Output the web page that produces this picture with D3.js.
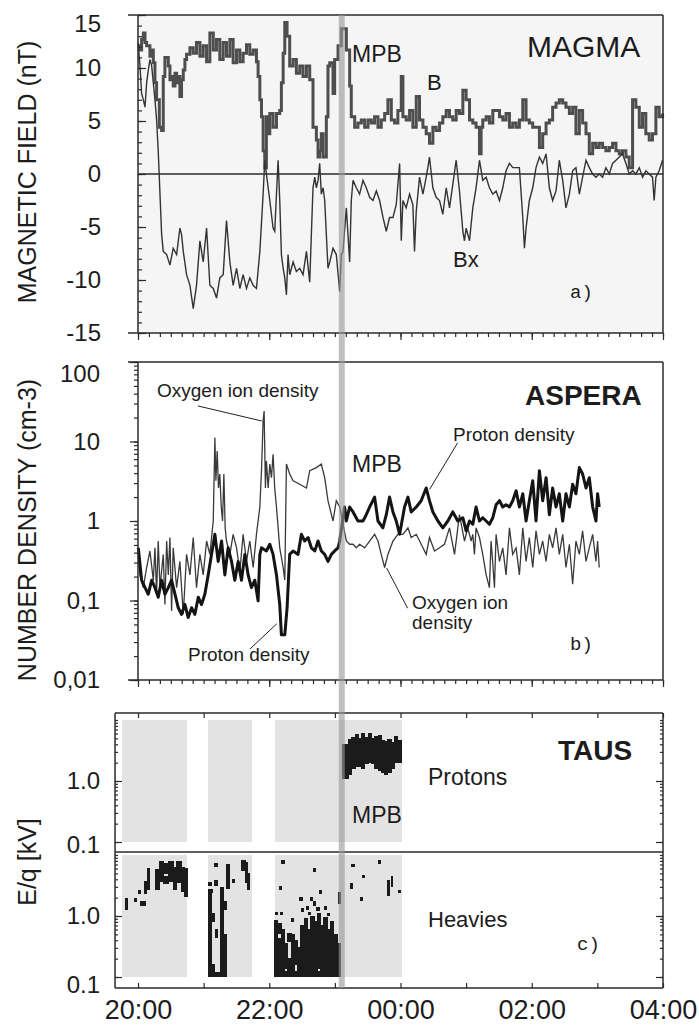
<!DOCTYPE html>
<html>
<head>
<meta charset="utf-8">
<script src="https://cdn.jsdelivr.net/npm/d3@7"></script>
<style>
  body { margin: 0; background: #fff; }
  svg { display: block; }
  text { font-family: "Liberation Sans", Arial, sans-serif; fill: #1c1c1c; }
  .mono { font-family: "Liberation Mono", "Courier New", monospace; }
</style>
</head>
<body>
<svg id="chart" width="699" height="1025"></svg>
<script>
// ---- time base: minutes after 20:00 UT ----
const timeTicks = [0, 120, 240, 360, 480];
const timeLabels = ["20:00", "22:00", "00:00", "02:00", "04:00"];
const mpbTime = 186.3;               // magnetic pile-up boundary crossing
const tausStart = -21;               // TAUS panel starts at 19:39

// ---- MAGMA magnetic field (nT) : [minute, value] ----
const bTotal = [[0,12.1],[1.8,11.7],[3.3,12.7],[4.9,13.3],[6.4,12.4],[7.9,12.1],[10.9,11.1],[12.5,11.7],[14,10.5],[15.5,8.6],[17,7],[19.5,4.4],[21.6,4.1],[23.1,9.2],[24.6,11],[27.7,10.2],[29.2,8.9],[30.7,9.2],[32.2,8.3],[33.8,9.5],[35.3,8.6],[36.8,9.2],[38.3,7.3],[39.8,8.9],[41.4,9.8],[42.9,10.8],[44.4,11.3],[47.5,11.9],[50.5,11.4],[53.5,12.4],[56.6,11.1],[59.6,12.1],[62.7,10.6],[65.7,13.3],[68.8,11.7],[71.8,12.7],[74.8,10.8],[77.9,12.4],[80.9,11.1],[84,12.7],[87,10.5],[90.1,11.7],[93.1,10.6],[96.1,11.4],[99.2,12.2],[102.2,11.3],[105.3,11.7],[108.3,10.6],[109.8,9.2],[111.4,7],[112.9,5.4],[114.4,2.2],[115.9,0.6],[117.4,5.4],[119,3.8],[120.5,5.7],[123.5,4.4],[126.6,5.7],[129.6,6],[131.1,8.6],[132.7,11.4],[134.2,14.3],[136.3,13],[138.7,10.2],[141.8,10.8],[144.8,9.5],[147.9,10.2],[150.9,9.2],[154,10.2],[157,8.9],[160,4.4],[163.1,3.2],[164.6,1.6],[166.1,2.2],[167.6,3.8],[169.2,1.6],[172.2,5.4],[173.7,10.2],[175.3,10.5],[178.3,7.6],[179.8,10.8],[182.9,12.1],[185.9,13.7],[187.4,13.7],[190.5,11.7],[193.5,8.3],[195,5.4],[198.1,4.4],[201.1,4.8],[204.2,5.1],[207.2,4.4],[210.3,5.1],[213.3,4.8],[216.3,5.4],[219.4,4.4],[222.4,5.1],[225.5,5.7],[228.5,7],[231.6,5.1],[234.6,4.8],[237.6,6],[240.7,9.2],[242.2,5.4],[245.2,5.1],[248.3,6],[251.3,4.4],[254.4,7.3],[257.4,5.1],[260.5,4.4],[263.5,3.8],[266.5,2.9],[269.6,4.4],[272.6,4.1],[275.7,4.8],[278.7,5.4],[281.8,6],[284.8,5.4],[287.8,5.1],[290.9,6],[293.9,5.7],[297,7.9],[300,7],[303.1,5.1],[306.1,4.8],[309.1,4.4],[312.2,1.9],[313.7,4.4],[315.2,5.1],[318.3,5.4],[321.3,4.8],[324.4,6],[327.4,6],[330.5,5.4],[333.5,5.1],[336.5,5.7],[339.6,4.4],[342.6,4.8],[345.7,4.4],[348.7,5.1],[351.8,7],[354.8,5.1],[357.8,4.8],[360.9,4.4],[363.9,4.4],[367,2.5],[370,3.8],[373.1,4.8],[376.1,5.1],[379.1,6.3],[382.2,6.7],[385.2,7],[388.3,6.7],[391.3,6.3],[394.4,5.7],[397.4,6.3],[400.4,3.8],[403.5,6],[406.5,4.8],[409.6,3.8],[412.6,1.9],[415.7,2.9],[418.7,2.5],[421.7,2.9],[424.8,2.5],[427.8,2.2],[430.9,2.5],[433.9,2.9],[437,2.2],[440,1.9],[443,2.2],[446.1,1.6],[449.1,0.6],[452.2,7],[455.2,6.3],[458.3,4.4],[461.3,5.7],[464.3,3.8],[467.4,3.2],[470.4,3.8],[473.5,6.3],[476.5,5.4],[479.6,5.7]];

const bX = [[0,12.4],[1.8,10.2],[3.3,7.6],[4.9,7],[6.4,6.3],[7.9,8.6],[9.4,9.8],[10.9,10.8],[12.5,10.2],[14,8.6],[15.5,7],[17,5.1],[18.5,2.2],[20.1,-1.9],[21.6,-5.7],[23.1,-7.3],[26.2,-7.6],[29.2,-8.6],[32.2,-7],[35.3,-7.6],[38.3,-5.1],[39.8,-5.7],[41.4,-7.3],[44.4,-9.5],[47.5,-10.5],[50.5,-12.7],[53.5,-10.5],[56.6,-6.3],[59.6,-8.3],[62.7,-5.1],[65.7,-10.5],[68.8,-10.8],[71.8,-11.7],[74.8,-9.8],[77.9,-9.5],[80.9,-4.4],[84,-8.3],[87,-10.5],[90.1,-8.9],[93.1,-10.8],[96.1,-9.5],[99.2,-10.8],[102.2,-9.8],[105.3,-10.5],[108.3,-10.8],[111.4,-7.3],[114.4,-1.9],[115.9,1.3],[117.4,0],[120.5,-2.5],[123.5,-5.1],[125,-5.4],[126.6,-1.9],[128.1,1.3],[129.6,-2.5],[131.1,-7.6],[132.7,-8.9],[134.2,-9.8],[135.7,-11.4],[137.2,-7.6],[138.7,-9.5],[141.8,-8.3],[144.8,-9.2],[147.9,-8.9],[150.9,-9.5],[154,-7.3],[157,-10.2],[158.5,-5.7],[160,-1.3],[161.6,-0.3],[163.1,-1.3],[164.6,-0.6],[166.1,1],[167.6,-1.9],[169.2,-1.3],[170.7,-2.5],[172.2,-5.7],[173.7,-8.9],[175.3,-8.3],[178.3,-7],[181.3,-7.6],[184.4,-11.1],[185.9,-7.6],[187.4,-7.3],[190.5,-3.2],[193.5,-8.3],[195,-2.5],[196.6,-0.6],[199.6,-1.3],[202.6,-1.9],[205.7,-0.6],[208.7,-1.3],[211.8,-2.2],[214.8,-2.5],[217.9,-1.6],[220.9,-2.5],[224,-4.1],[227,-5.4],[230,-4.1],[233.1,-4.1],[236.1,-2.9],[239.2,1],[240.7,-6.3],[242.2,-2.5],[245.2,-3.2],[248.3,-1.9],[251.3,-2.9],[252.8,-7.3],[254.4,-3.5],[257.4,-0.3],[260.5,-1.9],[263.5,-0.3],[265,0.6],[266.5,1.6],[269.6,-1.3],[272.6,-2.2],[275.7,-2.5],[278.7,-3.8],[281.8,-1.3],[284.8,-3.2],[287.8,-1],[290.9,1.3],[293.9,-1.6],[297,-5.4],[298.5,-6.3],[300,-5.1],[303.1,-6.3],[306.1,-3.2],[309.1,-1.3],[312.2,1.3],[315.2,-0.6],[318.3,-0.3],[321.3,-1.3],[324.4,-1.9],[327.4,-1.6],[330.5,-2.5],[333.5,-1.3],[336.5,0.3],[339.6,1],[342.6,0.6],[345.7,0.6],[348.7,0.6],[351.8,-4.1],[353.3,-7],[354.8,-5.1],[357.8,-2.5],[360.9,-1.3],[363.9,0.6],[367,1.6],[370,1],[373.1,1.9],[376.1,-1.3],[379.1,-2.5],[382.2,-1.6],[385.2,1.3],[388.3,-0.6],[391.3,-3.2],[394.4,-1.9],[397.4,0.3],[400.4,0.6],[403.5,-1.9],[406.5,-0.3],[409.6,1.3],[412.6,0.6],[415.7,0],[418.7,-0.3],[421.7,0],[424.8,-0.3],[427.8,0.6],[430.9,0],[433.9,1],[437,1.3],[440,1.6],[443,1.9],[446.1,1],[449.1,0],[452.2,0.3],[455.2,0],[458.3,0.6],[461.3,-0.3],[464.3,0.3],[467.4,0],[470.4,-0.3],[471.9,-2.5],[473.5,-0.3],[476.5,0.3],[479.6,1.3]];
const fieldTicks = [-15, -10, -5, 0, 5, 10, 15];

// ---- ASPERA number densities (cm-3) : [minute, value] ----
const protonDensity = [[0.3,0.46],[3.3,0.18],[6.4,0.145],[9.4,0.12],[12.5,0.18],[15.5,0.145],[18.5,0.11],[21.6,0.18],[24.6,0.12],[27.7,0.145],[30.7,0.18],[33.8,0.12],[36.8,0.081],[39.8,0.067],[42.9,0.089],[45.9,0.061],[49,0.081],[52,0.067],[55.1,0.11],[58.1,0.089],[61.1,0.12],[64.2,0.21],[67.2,0.38],[70.3,0.68],[73.3,0.31],[76.4,0.56],[79.4,0.21],[82.4,0.46],[85.5,0.31],[88.5,0.18],[91.6,0.31],[94.6,0.18],[97.7,0.38],[100.7,0.21],[103.7,0.145],[106.8,0.18],[109.8,0.099],[111.4,0.38],[112.9,0.46],[117.4,0.42],[120.5,0.51],[123.5,0.38],[126.6,0.21],[129.6,0.089],[131.1,0.037],[134.2,0.037],[136.3,0.081],[138.7,0.38],[141.8,0.42],[146.3,0.38],[149.4,0.68],[152.4,0.56],[155.5,0.62],[158.5,0.46],[161.6,0.42],[164.6,0.56],[167.6,0.42],[170.7,0.38],[173.7,0.31],[176.8,0.38],[179.8,0.42],[182.9,0.46],[184.4,0.56],[188.9,1.5],[190.5,1],[193.5,1.5],[196.6,1.3],[201.1,1],[205.7,1],[208.7,1.2],[211.8,1.5],[216.3,2],[219.4,1],[223.9,0.82],[227,1.2],[230,2],[233.1,1.3],[236.1,1],[239.2,0.68],[243.7,1.5],[246.8,2],[249.8,1.3],[254.4,1.5],[258.9,1.8],[263.5,2.6],[266.5,1.8],[269.6,1.3],[274.2,1],[278.7,0.82],[283.3,1],[287.8,1.3],[292.4,1],[297,1.1],[300,0.75],[303.1,1],[306.1,0.91],[309.1,1.5],[312.2,1],[315.2,1.1],[318.3,1],[321.3,0.91],[324.4,1.1],[327.4,1.6],[330.5,1.8],[333.5,1.5],[336.5,1.6],[339.6,1.5],[342.6,1.8],[345.7,2.4],[348.7,1.5],[351.8,2.2],[354.8,1],[357.8,1.8],[360.9,3.2],[363.9,1],[367,4.3],[370,1.8],[373.1,3.5],[376.1,1.2],[379.1,2.6],[382.2,1.5],[385.2,2.2],[388.3,1],[391.3,2.2],[394.4,1.5],[397.4,2.9],[400.4,2.2],[403.5,4.7],[406.5,3.9],[409.6,2.6],[412.6,3.5],[415.7,1.5],[418.7,1],[420.2,2.2],[421.7,1.5]];

const oxygenDensity = [[0.3,0.46],[1.8,0.21],[4.8,0.145],[7.9,0.26],[10.9,0.42],[14,0.18],[15.5,0.46],[17,0.12],[18.5,0.56],[20.1,0.145],[23.1,0.38],[24.6,0.089],[26.2,0.56],[27.7,0.21],[29.2,0.62],[30.7,0.074],[32.2,0.46],[35.3,0.145],[38.3,0.31],[41.4,0.067],[44.4,0.38],[47.5,0.21],[50.5,0.62],[53.5,0.145],[56.6,0.38],[59.6,0.21],[62.7,0.56],[65.7,0.38],[68.8,1],[70.3,11.2],[71.2,3.2],[72.4,7.6],[73.6,2.6],[74.8,3.9],[76.1,1.5],[77.3,1],[78.5,3.9],[79.7,0.82],[80.9,0.56],[84,0.38],[87,0.68],[90.1,0.46],[93.1,0.23],[96.1,0.68],[99.2,0.31],[102.2,0.56],[105.3,0.26],[108.3,0.68],[111.4,1.5],[112.9,4.3],[114.4,18.1],[115.3,24.2],[116.5,2.6],[117.4,5.7],[119,2.6],[120.5,5.2],[122,3.5],[123.5,6.9],[125,2.6],[126.6,1.5],[129.6,0.46],[132.7,0.26],[134.2,0.18],[135.7,5.2],[138.7,3.9],[141.8,3.2],[147.9,2.9],[154,2.6],[157,4.3],[163.1,4.7],[167.6,5.2],[170.7,3.5],[173.7,1.8],[178.3,1],[181.3,1.8],[184.4,1.5],[190.5,0.56],[193.5,0.51],[196.6,0.51],[199.6,0.46],[202.6,0.51],[207.2,0.46],[211.8,0.56],[216.3,0.68],[219.4,0.56],[222.4,0.38],[225.5,0.26],[228.5,0.38],[233.1,0.56],[237.6,0.68],[242.2,0.68],[246.8,0.82],[249.8,0.62],[254.4,0.68],[260.5,0.46],[263.5,0.38],[266.5,0.62],[271.1,0.42],[275.7,0.46],[280.2,0.51],[284.8,0.82],[289.4,0.38],[293.9,1.2],[298.5,0.56],[301.5,0.82],[304.6,0.56],[306.1,0.68],[307.6,0.38],[309.1,0.82],[312.2,0.62],[315.2,0.38],[318.3,0.21],[321.3,0.145],[322.8,0.56],[324.4,0.29],[325.9,0.145],[327.4,0.68],[330.5,0.31],[333.5,0.46],[336.5,0.21],[339.6,0.82],[342.6,0.38],[345.7,0.46],[348.7,0.21],[351.8,0.82],[354.8,0.31],[357.8,0.62],[360.9,0.26],[363.9,0.75],[367,0.38],[370,0.56],[373.1,0.31],[376.1,0.68],[379.1,0.46],[382.2,0.82],[385.2,0.38],[388.3,0.68],[391.3,0.26],[394.4,0.51],[397.4,0.16],[400.4,0.56],[403.5,0.38],[406.5,0.75],[409.6,0.31],[412.6,0.46],[415.7,0.68],[418.7,0.31],[420.2,0.56],[421.7,0.26]];
const densityTicks = [0.01, 0.1, 1, 10, 100];
const densityLabels = ["0,01", "0,1", "1", "10", "100"];

// ---- TAUS E/q spectrogram (kV) ----
const tausWindows = [[-14.6, 44.7], [63.9, 104.1], [125.1, 241]];   // instrument on
const energyTicks = [0.1, 1];
// occupied cells: [t0, t1, eLow, eHigh]
const protonCells = [[187,189.5,1.1,4.0],[189.5,192.5,1.1,4.0],[192.5,195.5,1.3,4.8],[195.5,198.5,1.6,5.2],[198.5,201.5,1.7,5.8],[201.5,204.5,1.7,5.0],[204.5,207.5,1.6,5.9],[207.5,210.5,1.9,5.2],[210.5,213.5,2.0,6.0],[213.5,216.5,1.9,5.0],[216.5,219.5,1.6,5.4],[219.5,222.5,1.5,5.6],[222.5,225.5,1.4,4.6],[225.5,228.5,1.3,4.4],[228.5,231.5,1.4,4.8],[231.5,234.5,1.6,4.2],[234.5,237.5,2.0,5.3],[237.5,240.5,2.0,4.6]];
const heavyCells = [
  // 19:46 - 20:45
  [-11.3,-9.4,1.3,1.95],[-3.3,-1.2,1.75,1.95],[0.9,2.7,2.35,2.6],[2.7,6.7,1.5,1.7],[5.8,7.9,2.35,3.65],[8.8,10.9,2.67,6.05],
  [16.1,19.5,2.67,5.7],[19.5,23.1,3.65,7.9],[23.1,27.7,5.0,7.3],[23.1,27.7,3.4,4.4],[27.7,32.2,3.65,7.9],[32.2,35.3,2.67,6.3],[35.3,39.9,3.6,7.9],[39.9,42.9,2.5,6.3],[42.9,45,2.07,6.05],
  // 21:04 - 21:44
  [64,67.5,3.2,3.5],[64,68,2.4,2.7],[70,73,3.2,3.8],[70.2,72.4,6.5,7.3],[64.8,67.5,0.1,2.3],[67.5,70,0.1,0.16],[67.5,70,0.8,1.1],[70,75,0.1,0.12],
  [71,73,0.45,0.6],[75,78,0.1,2.9],[78,80.5,0.1,0.5],[78,80.5,1.3,1.7],[81,84,2.8,6.9],[86,88,3.6,3.9],[95,98,5.5,8.2],[98,100,3.5,7.5],[100,102,2.67,5],
  // 22:05 - 23:05
  [131.5,133.5,7.3,8.2],[129.5,131.5,2.7,3.0],[160.5,162.5,5.4,6.1],[166,168,2.3,2.6],[148,150,1.8,2.0],[158,160,1.8,2.0],[160.5,162.5,1.5,1.7],[154,156,1.3,1.45],[149.5,151.5,1.2,1.35],[163.5,165.5,1.25,1.4],[170.5,172.5,1.3,1.45],[126,128,1.05,1.15],[130,132,1.05,1.15],[173.5,175.5,1.0,1.1],[140,142,0.82,0.9],[156,158,1.05,1.15],
  [125,128,0.1,0.85],[128,131,0.1,0.42],[128,131,0.52,0.75],[131,134,0.1,0.6],[134,137,0.14,0.35],[137,140,0.1,0.2],[137,140,0.38,0.52],[140,143,0.1,0.5],[143,146,0.16,0.4],[146,149,0.1,0.3],[149,152,0.1,0.7],[152,155,0.1,0.9],[155,158,0.12,0.6],[158,161,0.1,1.0],[161,164,0.1,0.8],[164,167,0.14,1.1],[167,170,0.1,0.7],[170,173,0.1,0.95],[173,176,0.12,0.6],[176,179,0.1,0.8],[179,182,0.1,0.5],[182,185,0.1,0.35],[125,185,0.1,0.125],[183,185,1.6,2.4],
  // after the boundary
  [194.5,196.5,2.85,3.4],[195.5,197.5,6.4,7.0],[203.5,205.5,1.8,2.0],[205.5,207.5,4.2,4.6],[219.5,221.5,7.3,8.0],[228,230,2.2,3.8],[231.5,233,3.1,4.4],[238,240,2.4,2.6]
];

// ------------------------------------------------------------------
const svg = d3.select("#chart");
const ink = "#2a2a2a";
const x = d3.scaleLinear().domain([0, 480]).range([138, 663]);

function styleAxis(g, size) {
  g.select(".domain").remove();
  g.selectAll("line").attr("stroke", ink).attr("stroke-width", 1.2);
  g.attr("font-family", "Liberation Sans, Arial, sans-serif").attr("font-size", size || 24);
  g.selectAll("text").attr("fill", "#1c1c1c");
}
function hline(y, x1, x2, w) {
  svg.append("line").attr("x1", x1).attr("x2", x2).attr("y1", y).attr("y2", y)
    .attr("stroke", ink).attr("stroke-width", w || 1.5);
}
function vline(xp, y1, y2, w) {
  svg.append("line").attr("x1", xp).attr("x2", xp).attr("y1", y1).attr("y2", y2)
    .attr("stroke", ink).attr("stroke-width", w || 1.5);
}
function label(txt, xp, yp, size, opts = {}) {
  const t = svg.append("text").attr("x", xp).attr("y", yp).attr("font-size", size).text(txt);
  if (opts.bold) t.attr("font-weight", "bold");
  if (opts.mono) t.attr("class", "mono");
  return t;
}
function yTitle(txt, cy) {
  svg.append("text").attr("transform", `translate(27,${cy}) rotate(-90)`)
    .attr("text-anchor", "middle").attr("dy", "0.36em").attr("font-size", 25).text(txt);
}
function timeMinorAxis(y) {
  svg.append("g").attr("transform", `translate(0,${y})`)
    .call(d3.axisBottom(x).tickValues(d3.range(0, 481, 10)).tickSize(4).tickFormat(""))
    .call(g => styleAxis(g));
  svg.append("g").attr("transform", `translate(0,${y})`)
    .call(d3.axisBottom(x).tickValues(timeTicks).tickSize(7).tickFormat(""))
    .call(g => styleAxis(g));
}

// ================= (a) MAGMA =================
const yA = d3.scaleLinear().domain([-15, 15]).range([333, 15]);
svg.append("rect").attr("x", x(0)).attr("y", yA(15)).attr("width", x(480) - x(0))
  .attr("height", yA(-15) - yA(15)).attr("fill", "#f5f5f5");
hline(yA(0), x(0), x(480), 1.3);

svg.append("path").attr("d", d3.line().x(d => x(d[0])).y(d => yA(d[1])).curve(d3.curveStepAfter)(bTotal))
  .attr("fill", "none").attr("stroke", "#4e4e4e").attr("stroke-width", 3).attr("stroke-linejoin", "miter");
svg.append("path").attr("d", d3.line().x(d => x(d[0])).y(d => yA(d[1]))(bX))
  .attr("fill", "none").attr("stroke", "#333").attr("stroke-width", 1.4);

svg.append("g").attr("transform", `translate(${x(0)},0)`)
  .call(d3.axisLeft(yA).tickValues(d3.range(-15, 16, 1)).tickSize(-4).tickFormat(""))
  .call(g => styleAxis(g));
svg.append("g").attr("transform", `translate(${x(0)},0)`)
  .call(d3.axisLeft(yA).tickValues(fieldTicks).tickSize(-8).tickPadding(37).tickFormat(d => String(d)))
  .call(g => styleAxis(g, 24))
  .call(g => g.selectAll(".tick").filter(d => d === 15).select("text").attr("dy", "0.7em"));
timeMinorAxis(yA(-15));
hline(yA(15), 128, 663); hline(yA(-15), 128, 663);
vline(x(0), yA(15), yA(-15)); vline(663, yA(15), yA(-15));

yTitle("MAGNETIC FIELD (nT)", 172);
label("MAGMA", 527, 57, 30);
label("MPB", 352, 62, 23);
label("B", 427, 90, 22);
label("Bx", 453, 267, 22);
label("a)", 570, 298, 19, { mono: true });

// ================= (b) ASPERA =================
const yB = d3.scaleLog().domain([0.01, 100]).range([680, 362]);
const lineB = d3.line().x(d => x(d[0])).y(d => yB(d[1]));
svg.append("path").attr("d", lineB(oxygenDensity))
  .attr("fill", "none").attr("stroke", "#3a3a3a").attr("stroke-width", 1.3);
svg.append("path").attr("d", lineB(protonDensity))
  .attr("fill", "none").attr("stroke", "#141414").attr("stroke-width", 3).attr("stroke-linejoin", "round");

svg.append("g").attr("transform", `translate(${x(0)},0)`)
  .call(d3.axisLeft(yB).tickValues(yB.ticks()).tickSize(4).tickFormat(""))
  .call(g => styleAxis(g));
svg.append("g").attr("transform", `translate(${x(0)},0)`)
  .call(d3.axisLeft(yB).tickValues(densityTicks).tickSize(8).tickPadding(30)
    .tickFormat((d, i) => densityLabels[i]))
  .call(g => styleAxis(g, 24))
  .call(g => g.selectAll(".tick").filter(d => d === 100).select("text").attr("dy", "0.82em"));
timeMinorAxis(yB(0.01));
hline(yB(100), 128, 663); hline(yB(0.01), 128, 663);
vline(x(0), yB(100), yB(0.01)); vline(663, yB(100), yB(0.01));

yTitle("NUMBER DENSITY (cm-3)", 530);
label("ASPERA", 525, 405, 28, { bold: true });
label("Oxygen ion density", 157, 397, 19);
label("Proton density", 453, 441, 19);
label("MPB", 352, 472, 23);
label("Oxygen ion", 412, 609, 19);
label("density", 412, 629, 19);
label("Proton density", 188, 661, 19);
label("b)", 570, 650, 19, { mono: true });

// leader lines, anchored in data space [minute, density]
const leaders = [
  [[54.8, 28], [113.2, 18.1]],
  [[126.9, 0.051], [102.3, 0.0245]],
  [[292.2, 9.6], [266.6, 2.5]],
  [[227.3, 0.256], [246.5, 0.080]]
];
leaders.forEach(([a, b]) => {
  svg.append("line").attr("x1", x(a[0])).attr("y1", yB(a[1])).attr("x2", x(b[0])).attr("y2", yB(b[1]))
    .attr("stroke", "#222").attr("stroke-width", 1);
});

// ================= (c) TAUS =================
const yP = d3.scaleLog().domain([0.1, 10]).range([842, 720]);
const yH = d3.scaleLog().domain([0.1, 10]).range([977, 855]);
const cTop = 713, cMid = 852, cBot = 988, cLeft = x(tausStart), cRight = 663;

[[yP, protonCells], [yH, heavyCells]].forEach(([ys, cells]) => {
  svg.append("g").attr("shape-rendering", "crispEdges")
    .selectAll("rect").data(tausWindows).join("rect")
    .attr("x", d => x(d[0])).attr("width", d => x(d[1]) - x(d[0]))
    .attr("y", ys(10)).attr("height", ys(0.1) - ys(10)).attr("fill", "#e3e3e3");
  svg.append("g").attr("shape-rendering", "crispEdges")
    .selectAll("rect").data(cells).join("rect")
    .attr("x", d => Math.floor(x(d[0]))).attr("width", d => Math.ceil(x(d[1])) - Math.floor(x(d[0])))
    .attr("y", d => Math.floor(ys(d[3]))).attr("height", d => Math.ceil(ys(d[2])) - Math.floor(ys(d[3])))
    .attr("fill", "#1b1b1b");

  svg.append("g").attr("transform", `translate(${cLeft},0)`)
    .call(d3.axisLeft(ys).tickValues(ys.ticks()).tickSize(-3).tickFormat(""))
    .call(g => styleAxis(g));
  svg.append("g").attr("transform", `translate(${cRight},0)`)
    .call(d3.axisRight(ys).tickValues(ys.ticks()).tickSize(-3).tickFormat(""))
    .call(g => styleAxis(g));
  svg.append("g").attr("transform", `translate(${cRight},0)`)
    .call(d3.axisRight(ys).tickValues(energyTicks).tickSize(-7).tickFormat(""))
    .call(g => styleAxis(g));
});
svg.append("g").attr("transform", `translate(${cLeft},0)`)
  .call(d3.axisLeft(yP).tickValues(energyTicks).tickSize(-7).tickPadding(15).tickFormat(d3.format(".1f")))
  .call(g => styleAxis(g, 24))
  .call(g => g.selectAll(".tick").filter(d => d === 0.1).select("text").attr("dy", "0.45em"));
svg.append("g").attr("transform", `translate(${cLeft},0)`)
  .call(d3.axisLeft(yH).tickValues(energyTicks).tickSize(-7).tickPadding(15).tickFormat(d3.format(".1f")))
  .call(g => styleAxis(g, 24))
  .call(g => g.selectAll(".tick").filter(d => d === 0.1).select("text").attr("dy", "0.65em"));

svg.append("g").attr("transform", `translate(0,${cTop})`)
  .call(d3.axisTop(x).tickValues(d3.range(0, 481, 60)).tickSize(-5).tickFormat(""))
  .call(g => styleAxis(g));
svg.append("g").attr("transform", `translate(0,${cBot})`)
  .call(d3.axisBottom(x).tickValues(d3.range(0, 481, 60)).tickSize(-5).tickFormat(""))
  .call(g => styleAxis(g));
svg.append("g").attr("transform", `translate(0,${cBot})`)
  .call(d3.axisBottom(x).tickValues(timeTicks).tickSize(0).tickPadding(12)
    .tickFormat((d, i) => timeLabels[i]))
  .call(g => styleAxis(g, 27));

hline(cTop, cLeft, cRight); hline(cMid, cLeft, cRight); hline(cBot, cLeft, cRight);
vline(cLeft, cTop, cBot); vline(cRight, cTop, cBot);

yTitle("E/q [kV]", 862);
label("TAUS", 558, 760, 28, { bold: true });
label("Protons", 428, 785, 23);
label("MPB", 352, 823, 23);
label("Heavies", 428, 927, 22);
label("c)", 577, 950, 19, { mono: true });

// ================= MPB marker across all panels =================
svg.append("rect").attr("x", x(mpbTime) - 3).attr("y", yA(15)).attr("width", 6)
  .attr("height", cBot - yA(15)).attr("fill", "#9a9a9a").attr("opacity", 0.62);
</script>
</body>
</html>
